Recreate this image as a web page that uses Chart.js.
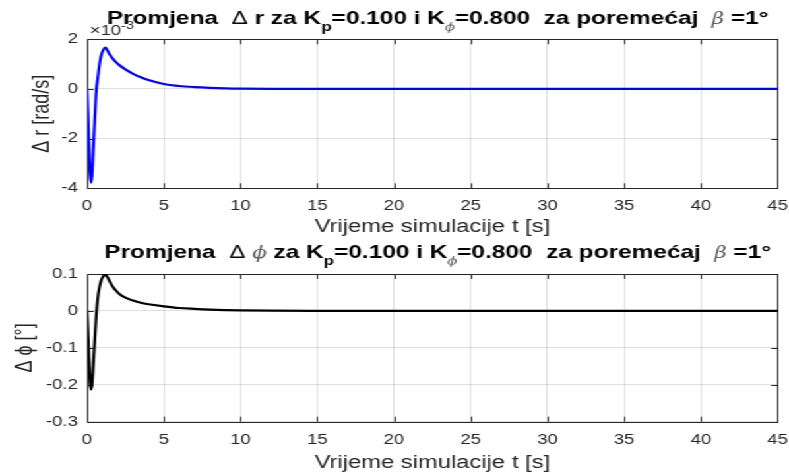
<!DOCTYPE html>
<html>
<head>
<meta charset="utf-8">
<script src="https://cdn.jsdelivr.net/npm/chart.js@4.4.1/dist/chart.umd.min.js"></script>
<style>
  html, body { margin: 0; padding: 0; background: #fff; }
  #wrap { position: absolute; left: 0; top: 0; width: 598px; height: 476px; transform: scaleX(1.3194); transform-origin: 0 0; }
  .box { position: relative; width: 598px; height: 238px; }
</style>
</head>
<body>
<div id="wrap">
  <div class="box"><canvas id="chartR"></canvas></div>
  <div class="box"><canvas id="chartPhi"></canvas></div>
</div>
<script>
// vrijeme simulacije [s]
const t = [0, 0.05, 0.1, 0.15, 0.2, 0.26, 0.32, 0.4, 0.5, 0.6, 0.7, 0.8, 0.9, 1.0, 1.1, 1.2, 1.3, 1.4, 1.5, 1.7,
           1.9, 2.1, 2.5, 3, 3.5, 4, 5, 6, 7, 8, 9, 10, 12, 15, 20, 30, 45];
// promjena r [rad/s]
const deltaR = [0, -0.9e-3, -1.9e-3, -2.8e-3, -3.45e-3, -3.77e-3, -3.5e-3, -2.5e-3, -1.25e-3, -0.05e-3,
                0.45e-3, 0.95e-3, 1.3e-3, 1.5e-3, 1.62e-3, 1.67e-3, 1.58e-3, 1.47e-3, 1.37e-3, 1.2e-3,
                1.07e-3, 0.96e-3, 0.79e-3, 0.61e-3, 0.47e-3, 0.36e-3, 0.2e-3, 0.12e-3, 0.075e-3, 0.045e-3,
                0.025e-3, 0.014e-3, 0.005e-3, 0.001e-3, 0, 0, 0];
// promjena phi [deg]
const deltaPhi = [0, -0.05, -0.105, -0.155, -0.195, -0.213, -0.2, -0.15, -0.08, -0.01,
                  0.035, 0.063, 0.08, 0.09, 0.096, 0.098, 0.093, 0.086, 0.078, 0.064,
                  0.054, 0.046, 0.036, 0.028, 0.022, 0.018, 0.0125, 0.008, 0.0055, 0.0035,
                  0.0022, 0.0014, 0.0006, 0.0002, 0, 0, 0];
const xTicks = [0, 5, 10, 15, 20, 25, 30, 35, 40, 45];
const yTicksR = [-4e-3, -2e-3, 0, 2e-3];
const yTicksPhi = [-0.3, -0.2, -0.1, 0, 0.1];

const FONT = '"Liberation Sans", Helvetica, Arial, sans-serif';
const GREEK = '"DejaVu Serif", serif';
const TXT = '#262626';

function titlePieces(sym) {
  const B = 'bold 18.5px ' + FONT;
  const SB = 'bold 13px ' + FONT;
  const N = '18.5px ' + FONT;
  const GI = 'italic 16px ' + GREEK;
  const SG = 'italic 11px ' + GREEK;
  const out = [["Promjena  ", B], ["\u0394", N]];
  if (sym === 'r') out.push([" r za K", B]);
  else out.push([" ", B], ["\u03d5", GI, 0, '#555'], [" za K", B]);
  out.push(["p", SB, 7], ["=0.100 i K", B], ["\u03d5", SG, 7, '#555'],
           ["=0.800  za poreme\u0107aj  ", B], ["\u03b2", GI, 0, '#555'], [" =1\u00b0", B]);
  return out;
}

// okvir, unutarnje crtice, naslov (MATLAB stil)
const matlabBox = {
  id: 'matlabBox',
  beforeDatasetsDraw(chart, args, opts) {
    const {ctx, chartArea: a, scales} = chart;
    ctx.save();
    ctx.strokeStyle = TXT;
    ctx.lineWidth = 1;
    ctx.beginPath();
    scales.x.ticks.forEach(tk => {
      const px = Math.round(scales.x.getPixelForValue(tk.value)) + 0.5;
      ctx.moveTo(px, a.bottom); ctx.lineTo(px, a.bottom - 5);
      ctx.moveTo(px, a.top); ctx.lineTo(px, a.top + 5);
    });
    scales.y.ticks.forEach(tk => {
      const py = Math.round(scales.y.getPixelForValue(tk.value)) + 0.5;
      ctx.moveTo(a.left, py); ctx.lineTo(a.left + 5, py);
      ctx.moveTo(a.right, py); ctx.lineTo(a.right - 5, py);
    });
    ctx.stroke();
    ctx.strokeRect(Math.round(a.left) + 0.5, Math.round(a.top) + 0.5,
                   Math.round(a.right - a.left), Math.round(a.bottom - a.top));
    ctx.restore();
  },
  afterDraw(chart, args, opts) {
    const {ctx, chartArea: a} = chart;
    ctx.save();
    ctx.textBaseline = 'alphabetic';
    if (opts.exponent) {
      ctx.fillStyle = TXT;
      ctx.font = '14px ' + FONT;
      ctx.fillText('\u00d710', 68, 35);
      const w = ctx.measureText('\u00d710').width;
      ctx.font = '11px ' + FONT;
      ctx.fillText('-3', 68 + w, 29);
    }
    const pieces = titlePieces(opts.sym);
    let total = 0;
    pieces.forEach(p => { ctx.font = p[1]; total += ctx.measureText(p[0]).width; });
    let x = (a.left + a.right) / 2 + 4 - total / 2;
    pieces.forEach(p => {
      ctx.font = p[1];
      ctx.fillStyle = p[3] || '#000';
      ctx.fillText(p[0], x, opts.baseline + (p[2] || 0));
      x += ctx.measureText(p[0]).width;
    });
    ctx.restore();
  }
};

function makeChart(id, ys, color, yMin, yMax, yTitle, o) {
  return new Chart(document.getElementById(id), {
    type: 'line',
    data: {
      datasets: [{
        data: t.map((v, i) => ({x: v, y: ys[i]})),
        borderColor: color,
        borderWidth: 2.2,
        pointRadius: 0,
        fill: false,
        cubicInterpolationMode: 'monotone'
      }]
    },
    options: {
      responsive: true,
      maintainAspectRatio: false,
      animation: false,
      layout: { padding: { top: o.padTop, right: 8.6, left: 0, bottom: 0 } },
      plugins: {
        legend: { display: false },
        tooltip: { enabled: false },
        matlabBox: { sym: o.sym, baseline: o.baseline, exponent: o.exponent }
      },
      scales: {
        x: {
          type: 'linear', min: 0, max: 45,
          afterBuildTicks: s => { s.ticks = xTicks.map(v => ({value: v})); },
          afterFit: s => { s.height = o.xHeight; s.paddingLeft = 0; s.paddingRight = 0; },
          ticks: { color: TXT, font: { family: FONT, size: 14 }, padding: o.xTickPad, maxRotation: 0 },
          grid: { color: 'rgba(38,38,38,0.15)', drawTicks: false },
          border: { display: false },
          title: { display: true, text: 'Vrijeme simulacije t [s]', color: TXT,
                   font: { family: FONT, size: 18 }, padding: { top: 0, bottom: o.xTitlePad } }
        },
        y: {
          min: yMin, max: yMax,
          afterBuildTicks: s => { s.ticks = o.yTicks.map(v => ({value: v})); },
          afterFit: s => { s.width = 66; s.paddingTop = 0; s.paddingBottom = 0; },
          ticks: { color: TXT, font: { family: FONT, size: 14 }, padding: 7, callback: o.fmt },
          grid: { color: 'rgba(38,38,38,0.15)', drawTicks: false },
          border: { display: false },
          title: { display: true, text: yTitle, color: TXT,
                   font: { family: FONT, size: 18 }, padding: { top: o.yTitlePad, bottom: 0 } }
        }
      }
    },
    plugins: [matlabBox]
  });
}

makeChart('chartR', deltaR, '#0000ff', -4e-3, 2e-3, '\u0394 r [rad/s]', {
  sym: 'r', baseline: 24, exponent: true, padTop: 39.3, xHeight: 49.7, xTickPad: 9, xTitlePad: 0,
  yTitlePad: 21.5, yTicks: yTicksR, fmt: v => String(Math.round(v * 1000))
});
makeChart('chartPhi', deltaPhi, '#000000', -0.3, 0.1, '\u0394 \u03d5 [\u00b0]', {
  sym: 'phi', baseline: 20, exponent: false, padTop: 36, xHeight: 54.3, xTickPad: 10.5, xTitlePad: 2,
  yTitlePad: 8, yTicks: yTicksPhi, fmt: v => String(Math.round(v * 10) / 10)
});
</script>
</body>
</html>
